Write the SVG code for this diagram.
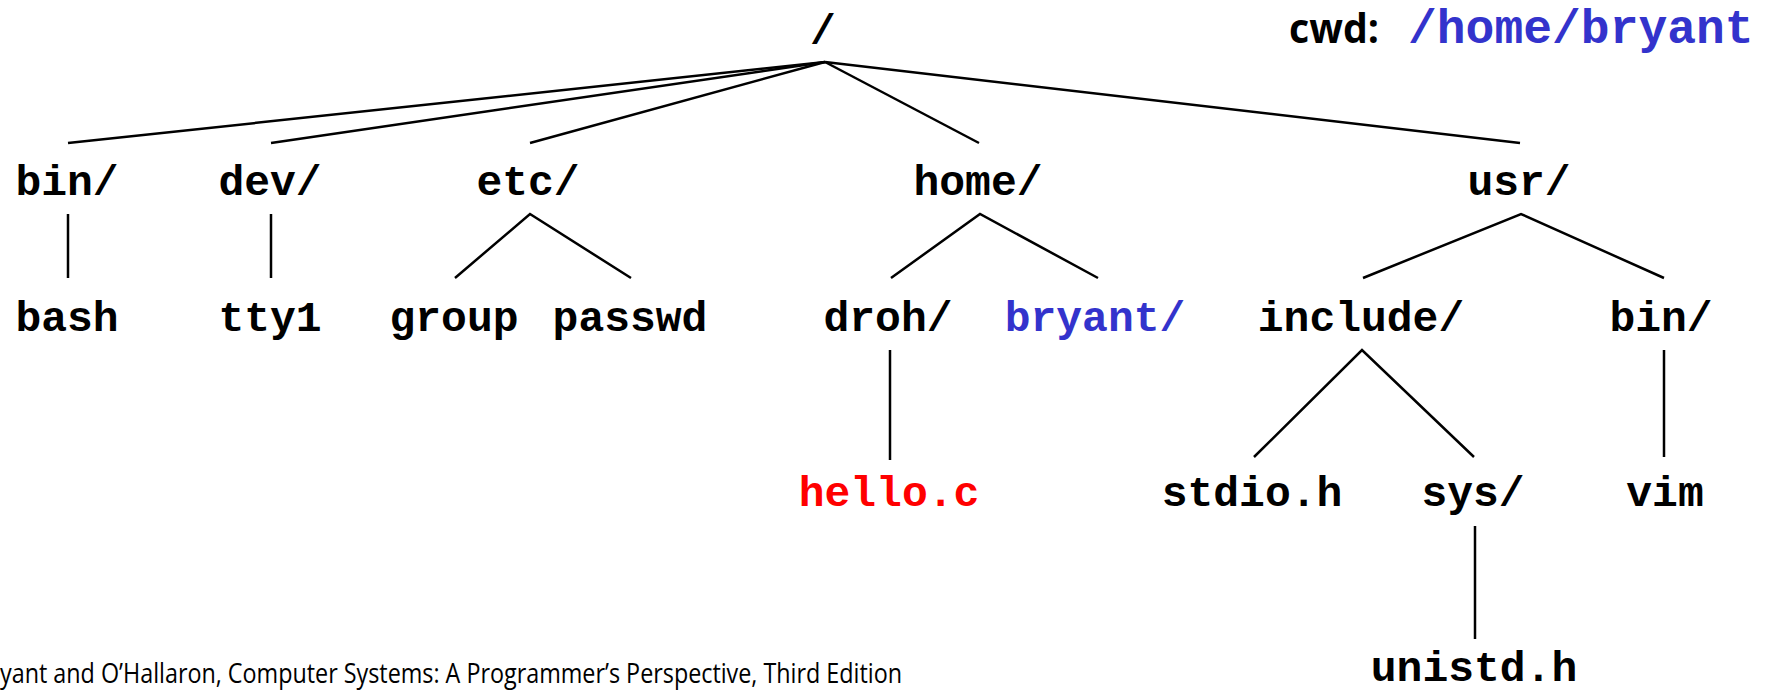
<svg xmlns="http://www.w3.org/2000/svg" width="1767" height="693" viewBox="0 0 1767 693">
<style>
.t{font-family:"Liberation Mono","Courier New",monospace;font-weight:bold;font-size:43px;fill:#000;text-anchor:middle}
.blue{fill:#3333CC}
.red{fill:#FF0000}
.e{stroke:#000;stroke-width:2.5;fill:none;stroke-linecap:butt}
</style>
<rect width="1767" height="693" fill="#fff"/>
<g id="connectors">
<line class="e" x1="825" y1="62" x2="68" y2="143"/>
<line class="e" x1="825" y1="62" x2="271" y2="143"/>
<line class="e" x1="825" y1="62" x2="530" y2="143"/>
<line class="e" x1="825" y1="62" x2="979" y2="143"/>
<line class="e" x1="825" y1="62" x2="1520" y2="143"/>
<line class="e" x1="68" y1="214" x2="68" y2="278"/>
<line class="e" x1="271" y1="214" x2="271" y2="278"/>
<polyline class="e" points="455,278 530,214 631,278"/>
<polyline class="e" points="891,278 980,214 1098,278"/>
<polyline class="e" points="1363,278 1521,214 1664,278"/>
<line class="e" x1="890" y1="350" x2="890" y2="460"/>
<polyline class="e" points="1254,457 1362,350 1474,457"/>
<line class="e" x1="1664" y1="350" x2="1664" y2="457"/>
<line class="e" x1="1475" y1="526" x2="1475" y2="639"/>
</g>
<g id="root"><text class="t" x="823" y="44">/</text></g>
<g id="bin"><text class="t" x="67" y="195">bin/</text></g>
<g id="dev"><text class="t" x="270" y="195">dev/</text></g>
<g id="etc"><text class="t" x="528" y="195">etc/</text></g>
<g id="home"><text class="t" x="978" y="195">home/</text></g>
<g id="usr"><text class="t" x="1519" y="195">usr/</text></g>
<g id="bash"><text class="t" x="67" y="331">bash</text></g>
<g id="tty1"><text class="t" x="270" y="331">tty1</text></g>
<g id="group"><text class="t" x="454" y="331">group</text></g>
<g id="passwd"><text class="t" x="630" y="331">passwd</text></g>
<g id="droh"><text class="t" x="888" y="331">droh/</text></g>
<g id="bryant"><text class="t blue" x="1095" y="331">bryant/</text></g>
<g id="include"><text class="t" x="1361" y="331">include/</text></g>
<g id="usrbin"><text class="t" x="1661" y="331">bin/</text></g>
<g id="hello"><text class="t red" x="889" y="506">hello.c</text></g>
<g id="stdio"><text class="t" x="1252" y="506">stdio.h</text></g>
<g id="sys"><text class="t" x="1473" y="506">sys/</text></g>
<g id="vim"><text class="t" x="1665" y="506">vim</text></g>
<g id="unistd"><text class="t" x="1474" y="681">unistd.h</text></g>
<g id="cwd">
<text x="1289" y="43" font-family="'Open Sans','Liberation Sans',sans-serif" font-weight="bold" font-size="42" textLength="90" lengthAdjust="spacingAndGlyphs">cwd:</text>
<text x="1408" y="43" font-family="'Liberation Mono','Courier New',monospace" font-weight="bold" font-size="48" fill="#3333CC">/home/bryant</text>
</g>
<g id="footer">
<text x="0" y="683" font-family="'Open Sans','Liberation Sans',sans-serif" font-size="27" textLength="902" lengthAdjust="spacingAndGlyphs">yant and O’Hallaron, Computer Systems: A Programmer’s Perspective, Third Edition</text>
</g>
</svg>
